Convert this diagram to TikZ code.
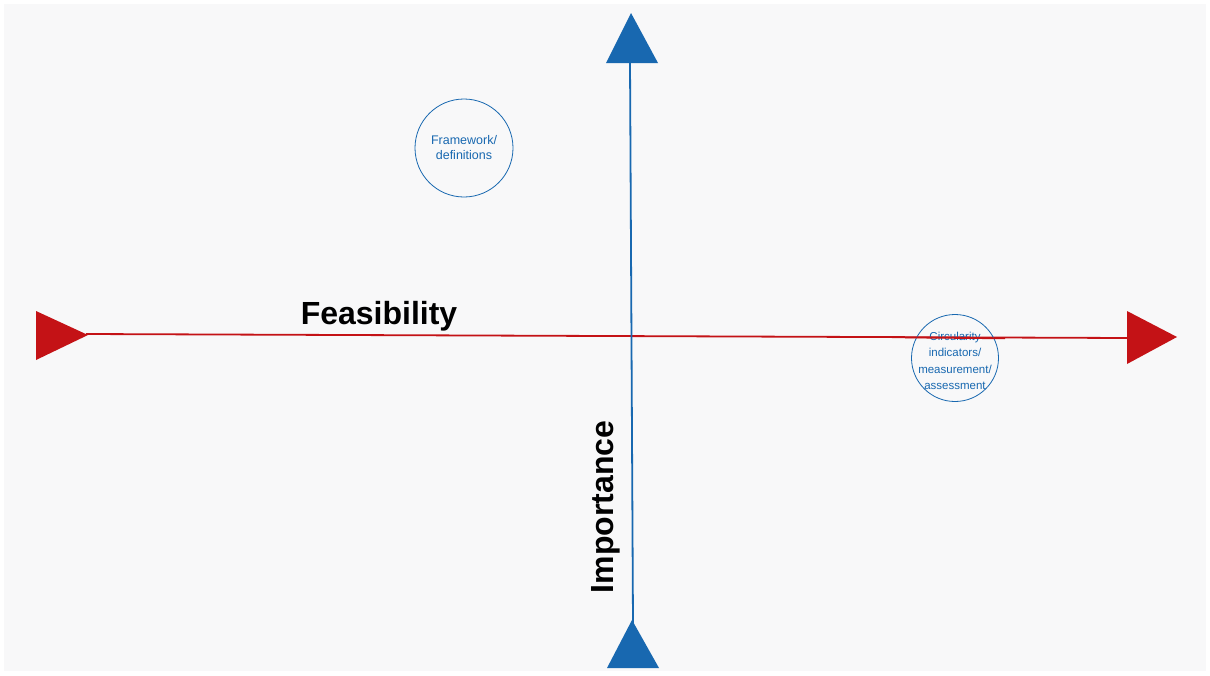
\documentclass[tikz,border=0pt]{standalone}
\usepackage{fontspec}
\setmainfont{Liberation Sans}
\definecolor{axred}{RGB}{196,18,22}
\definecolor{axblue}{RGB}{24,104,176}
\definecolor{bg}{RGB}{248,248,249}
\tikzset{
  redtri/.style={fill=axred,draw=none},
  bluetri/.style={fill=axblue,draw=none},
  bubble/.style={circle,draw=axblue,line width=0.8pt,inner sep=0pt,align=center,text=axblue},
  axlabel/.style={font=\fontsize{32}{36}\selectfont\bfseries,text=black,inner sep=0pt}
}
\begin{document}
\begin{tikzpicture}[x=1pt,y=-1pt]
\useasboundingbox (0,0) rectangle (1210,675);
\fill[white] (0,0) rectangle (1210,675);
\fill[bg] (4,4) rectangle (1206,671);
% axes
\coordinate (hl) at (86,334);
\coordinate (hr) at (1128,338);
\coordinate (vt) at (630,62);
\coordinate (vb) at (633,624);
\draw[axred,line width=1.8pt] (hl) -- (hr);
\draw[axblue,line width=1.8pt] (vt) -- (vb);
\fill[redtri] (36,311) -- (36,360) -- (88,335) -- cycle;
\fill[redtri] (1127,311) -- (1127,364) -- (1177,337) -- cycle;
\fill[bluetri] (606,63) -- (658,63) -- (631,13) -- cycle;
\fill[bluetri] (607,668) -- (659,668) -- (632,620) -- cycle;
% labels
\node[axlabel] (feas) at (379,316) {Feasibility};
\node[axlabel,rotate=90] (imp) at (606,507) {Importance};
% bubbles
\node[bubble,minimum size=98pt,font=\fontsize{12.5}{15}\selectfont] (fw) at (464,148) {Framework/\\definitions};
\node[bubble,minimum size=87pt] (ci) at (955,358) {};
\node[text=axblue,align=center,font=\fontsize{11.5}{16.5}\selectfont,inner sep=0pt] (cit) at (955,361) {Circularity\\indicators/\\measurement/\\assessment};
\draw[axred,line width=1.8pt] (905,337.4) -- (1005,338.3);
\end{tikzpicture}
\end{document}
